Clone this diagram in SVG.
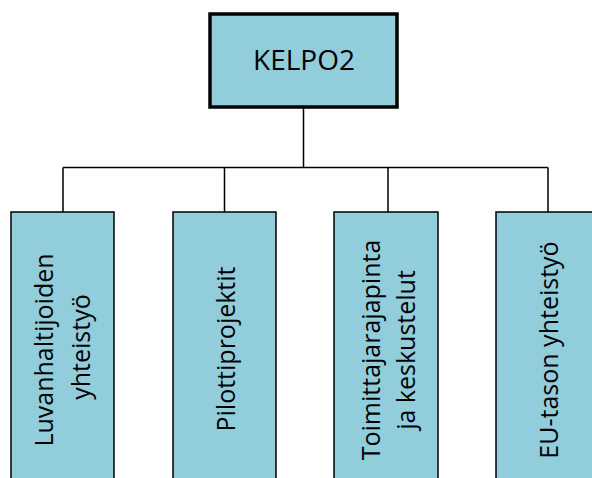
<svg xmlns="http://www.w3.org/2000/svg" width="592" height="478" viewBox="0 0 592 478">
<style>
.box{fill:#92CDDC;stroke:#000;stroke-width:1.5}
.top{fill:#92CDDC;stroke:#000;stroke-width:3.5}
.t{font-family:"Open Sans","Noto Sans",sans-serif;font-size:25px;fill:#000;text-anchor:middle}
.c{stroke:#000;stroke-width:1.5;fill:none}
</style>
<rect width="592" height="478" fill="#fff"/>
<g id="connectors">
<path class="c" d="M303.5 107V167.5M63 167.5H548M63 167.5V212M224.5 167.5V212M388 167.5V212M548 167.5V212"/>
</g>
<g id="kelpo2">
<rect class="top" x="210" y="14" width="187" height="93"/>
<text class="t" x="304" y="70" style="font-size:28px">KELPO2</text>
</g>
<g id="luvanhaltijoiden">
<rect class="box" x="11" y="212" width="103" height="280"/>
<g transform="translate(62.5,350) rotate(-90)">
<text class="t" x="0" y="-9.5">Luvanhaltijoiden</text>
<text class="t" x="3" y="27.5">yhteistyö</text>
</g>
</g>
<g id="pilottiprojektit">
<rect class="box" x="173" y="212" width="103" height="280"/>
<g transform="translate(224.5,349) rotate(-90)">
<text class="t" x="0" y="10.5">Pilottiprojektit</text>
</g>
</g>
<g id="toimittaja">
<rect class="box" x="334" y="212" width="104" height="280"/>
<g transform="translate(386,350) rotate(-90)">
<text class="t" x="0" y="-6">Toimittajarajapinta</text>
<text class="t" x="0" y="29">ja keskustelut</text>
</g>
</g>
<g id="eu">
<rect class="box" x="496" y="212" width="103" height="280"/>
<g transform="translate(547.5,350) rotate(-90)">
<text class="t" x="0" y="10.5">EU-tason yhteistyö</text>
</g>
</g>
</svg>
